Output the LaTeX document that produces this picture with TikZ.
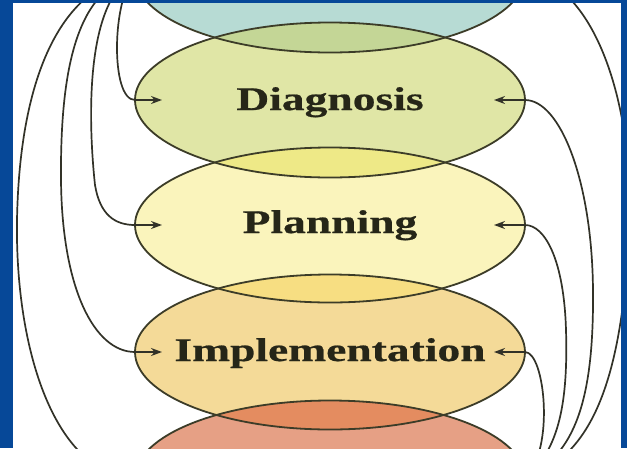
\documentclass[tikz,border=0pt]{standalone}
\usepackage{fontspec}
\usetikzlibrary{arrows.meta,shapes.geometric}
\newfontfamily\lblfont[FakeStretch=1.38,FakeBold=0.6]{Liberation Serif}
\definecolor{frameblue}{RGB}{6,72,152}
\definecolor{tealc}{RGB}{183,219,212}
\definecolor{tealdia}{RGB}{196,214,150}
\definecolor{diac}{RGB}{224,230,166}
\definecolor{diaplan}{RGB}{238,233,135}
\definecolor{planc}{RGB}{250,244,188}
\definecolor{planimp}{RGB}{247,222,130}
\definecolor{impc}{RGB}{244,218,152}
\definecolor{impsal}{RGB}{228,140,96}
\definecolor{salc}{RGB}{230,160,133}
\definecolor{rimc}{RGB}{60,60,40}
\definecolor{linec}{RGB}{50,50,40}
\definecolor{txtc}{RGB}{38,38,24}
\begin{document}
\begin{tikzpicture}[x=1pt,y=-1pt,
  ell/.style={ellipse, minimum width=390pt, minimum height=155pt, inner sep=0pt, outer sep=0pt},
  rim/.style={draw=rimc, line width=1.8pt},
  oval/.style={x radius=195pt, y radius=77.5pt},
  lbl/.style={font=\lblfont\bfseries\fontsize{33}{33}\selectfont, text=txtc, anchor=base, inner sep=0pt},
  conn/.style={draw=linec, line width=1.7pt, -{Stealth[length=11pt,width=8pt]}}
]
\useasboundingbox (0,0) rectangle (627,448);
\fill[white] (0,0) rectangle (627,448);
\begin{scope}
\clip (13,3) rectangle (621,448);
% ellipses
\node[ell, fill=tealc] (top) at (330,-25) {};
\node[ell, fill=diac] (dia) at (330,100) {};
\node[ell, fill=planc] (plan) at (330,225) {};
\node[ell, fill=impc] (imp) at (330,352) {};
\node[ell, fill=salc] (sal) at (330,478) {};
% lenses
\begin{scope}\clip (top.center) ellipse [oval]; \fill[tealdia] (dia.center) ellipse [oval];\end{scope}
\begin{scope}\clip (dia.center) ellipse [oval]; \fill[diaplan] (plan.center) ellipse [oval];\end{scope}
\begin{scope}\clip (plan.center) ellipse [oval]; \fill[planimp] (imp.center) ellipse [oval];\end{scope}
\begin{scope}\clip (imp.center) ellipse [oval]; \fill[impsal] (sal.center) ellipse [oval];\end{scope}
% outlines
\foreach \n in {top,dia,plan,imp,sal} \draw[rim] (\n.center) ellipse [oval];
% labels
\node[lbl] (diaT) at ([yshift=-10pt]dia.center) {Diagnosis};
\node[lbl] (planT) at ([yshift=-8pt]plan.center) {Planning};
\node[lbl] (impT) at ([yshift=-9pt]imp.center) {Implementation};
% arrow tips
\coordinate (diaL) at ([xshift=27pt]dia.west);
\coordinate (planL) at ([xshift=27pt]plan.west);
\coordinate (impL) at ([xshift=27pt]imp.west);
\coordinate (salL) at ([xshift=27pt]sal.west);
\coordinate (diaR) at ([xshift=-31pt]dia.east);
\coordinate (planR) at ([xshift=-31pt]plan.east);
\coordinate (impR) at ([xshift=-31pt]imp.east);
\coordinate (topR) at ([xshift=-31pt]top.east);
% left connectors
\draw[conn] (top.west) .. controls (112,-2) and (110,100) .. (dia.west) -- (diaL);
\draw[conn] (top.west) .. controls (85,0) and (88,120) .. (95,185) .. controls (100,215) and (115,225) .. (plan.west) -- (planL);
\draw[conn] (top.west) .. controls (80,-10) and (60,60) .. (61,180) .. controls (62,290) and (95,352) .. (imp.west) -- (impL);
\draw[conn] (top.west) .. controls (70,-15) and (20,60) .. (17,220) .. controls (15,350) and (55,475) .. (sal.west) -- (salL);
% right connectors
\draw[conn] (sal.east) .. controls (555,450) and (545,352) .. (imp.east) -- (impR);
\draw[conn] (sal.east) .. controls (560,450) and (568,400) .. (566,330) .. controls (564,260) and (545,225) .. (plan.east) -- (planR);
\draw[conn] (sal.east) .. controls (575,455) and (594,400) .. (593,290) .. controls (592,180) and (560,100) .. (dia.east) -- (diaR);
\draw[conn] (sal.east) .. controls (600,455) and (625,360) .. (630,210) .. controls (630,80) and (585,-20) .. (top.east) -- (topR);
\end{scope}
% frame
\fill[frameblue] (0,0) rectangle (13,448);
\fill[frameblue] (0,0) rectangle (627,3);
\fill[frameblue] (621,0) rectangle (627,448);
\end{tikzpicture}
\end{document}
